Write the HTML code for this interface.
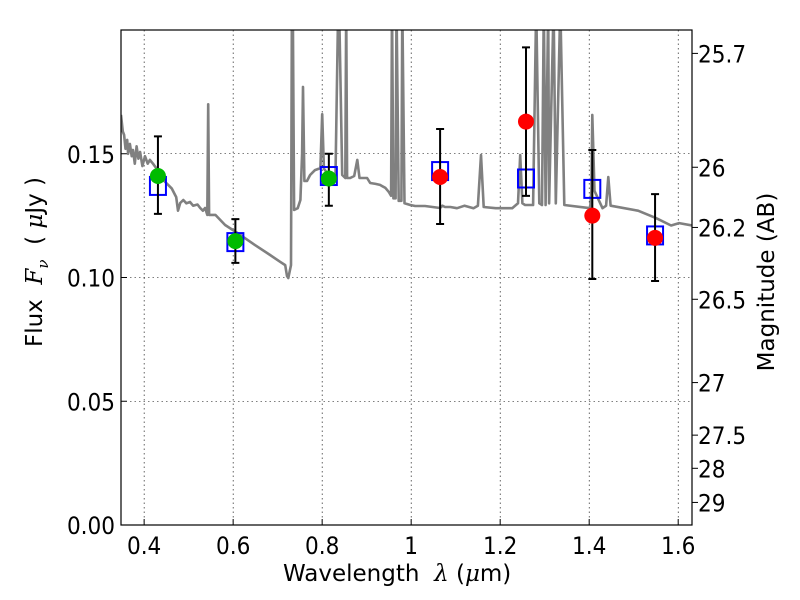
<!DOCTYPE html>
<html><head><meta charset="utf-8"><style>
html,body{margin:0;padding:0;background:#fff;}
svg{display:block;font-family:"DejaVu Sans Condensed","DejaVu Sans","Liberation Sans Narrow",sans-serif;font-stretch:condensed;}
</style></head><body>
<svg id="chart" width="800" height="600" xmlns="http://www.w3.org/2000/svg"></svg>
<script>
const specWave=[0.348,0.352,0.355,0.358,0.362,0.364,0.368,0.372,0.375,0.379,0.383,0.387,0.391,0.396,0.402,0.408,0.413,0.42,0.428,0.436,0.445,0.454,0.462,0.472,0.476,0.481,0.488,0.495,0.503,0.51,0.52,0.526,0.532,0.537,0.542,0.544,0.546,0.56,0.582,0.616,0.649,0.683,0.706,0.717,0.721,0.724,0.73,0.732,0.734,0.737,0.745,0.751,0.755,0.757,0.76,0.766,0.773,0.784,0.796,0.8,0.804,0.818,0.83,0.836,0.838,0.845,0.852,0.854,0.856,0.863,0.872,0.879,0.884,0.901,0.908,0.92,0.93,0.942,0.95,0.955,0.957,0.96,0.965,0.967,0.972,0.978,0.98,0.985,0.998,1.009,1.031,1.065,1.07,1.076,1.082,1.088,1.103,1.12,1.14,1.15,1.157,1.163,1.19,1.227,1.24,1.245,1.25,1.256,1.274,1.281,1.288,1.294,1.298,1.302,1.308,1.31,1.32,1.325,1.335,1.344,1.402,1.405,1.407,1.412,1.43,1.438,1.443,1.448,1.51,1.55,1.584,1.602,1.631];
const specFlux=[0.1657,0.159,0.1576,0.152,0.1556,0.15,0.154,0.149,0.1515,0.146,0.153,0.148,0.1507,0.145,0.149,0.146,0.1475,0.146,0.144,0.1414,0.139,0.1374,0.136,0.1325,0.127,0.1301,0.1313,0.13,0.1305,0.129,0.1295,0.1281,0.127,0.1281,0.1253,0.170,0.1253,0.1253,0.1212,0.1172,0.1131,0.1091,0.1063,0.105,0.1006,0.0998,0.105,0.21,0.21,0.1273,0.128,0.1313,0.15,0.177,0.139,0.139,0.1414,0.1434,0.1442,0.166,0.144,0.1406,0.1414,0.21,0.21,0.1414,0.1402,0.21,0.1402,0.1402,0.141,0.1475,0.1402,0.1402,0.1382,0.1378,0.1374,0.1362,0.1345,0.133,0.21,0.132,0.132,0.21,0.131,0.131,0.21,0.13,0.1293,0.1289,0.1289,0.1281,0.129,0.1285,0.1285,0.1285,0.128,0.129,0.128,0.129,0.1495,0.1285,0.128,0.128,0.13,0.1495,0.13,0.1293,0.1293,0.21,0.13,0.1293,0.21,0.1293,0.21,0.13,0.21,0.13,0.21,0.1293,0.128,0.135,0.1657,0.135,0.128,0.129,0.1406,0.129,0.127,0.124,0.121,0.122,0.121,0.117];
const obsWave=[0.431,0.605,0.815,1.065,1.258,1.407,1.548];
const obsFlux=[0.141,0.1147,0.140,0.1406,0.163,0.125,0.116];
const errHi=[0.157,0.1236,0.150,0.160,0.193,0.1515,0.1337];
const errLo=[0.1257,0.1059,0.129,0.1216,0.133,0.0994,0.0986];
const obsColor=["#00bb00","#00bb00","#00bb00","#ff0000","#ff0000","#ff0000","#ff0000"];
const modelFlux=[0.137,0.1143,0.141,0.143,0.140,0.1358,0.117];
const xTicks=[0.4,0.6,0.8,1.0,1.2,1.4,1.6];
const xTickLabels=["0.4","0.6","0.8","1","1.2","1.4","1.6"];
const yTicks=[0,0.05,0.10,0.15];
const yTickLabels=["0.00","0.05","0.10","0.15"];
const magTicks=[25.7,26,26.2,26.5,27,27.5,28,29];
const magTickLabels=["25.7","26","26.2","26.5","27","27.5","28","29"];

const L=121,R=692,T=30,B=525,X0=0.348,X1=1.631,Y0=0,Y1=0.2;
const sx=v=>L+(v-X0)/(X1-X0)*(R-L);
const sy=v=>B-(v-Y0)/(Y1-Y0)*(B-T);
const NS="http://www.w3.org/2000/svg";
const svg=document.getElementById('chart');
function mk(tag,attrs,parent){const e=document.createElementNS(NS,tag);for(const k in attrs)e.setAttribute(k,attrs[k]);(parent||svg).appendChild(e);return e;}
const defs=mk('defs',{});
const cp=mk('clipPath',{id:'clip'},defs);mk('rect',{x:L,y:T,width:R-L,height:B-T},cp);

xTicks.forEach((t,i)=>{const g=mk('line',{x1:sx(t),x2:sx(t),y1:T,y2:B,stroke:'#000','stroke-width':0.6,'stroke-dasharray':'1.5,3'});


const tk=mk('line',{x1:sx(t),x2:sx(t),y1:B,y2:B-6,stroke:'#000'});


const lb=mk('text',{x:sx(t),y:B+29,'text-anchor':'middle','font-size':24});lb.textContent=xTickLabels[i];

});
yTicks.forEach((t,i)=>{const g=mk('line',{x1:L,x2:R,y1:sy(t),y2:sy(t),stroke:'#000','stroke-width':0.6,'stroke-dasharray':'1.5,3'});


const tk=mk('line',{x1:L,x2:L+6,y1:sy(t),y2:sy(t),stroke:'#000'});


const lb=mk('text',{x:L-6,y:sy(t)+9,'text-anchor':'end','font-size':24});lb.textContent=yTickLabels[i];

});
magTicks.forEach((m,i)=>{const f=Math.pow(10,(23.9-m)/2.5);const y=sy(f);
const tk=mk('line',{x1:R,x2:R+6,y1:y,y2:y,stroke:'#000'});


const lb=mk('text',{x:R+6,y:y+9,'font-size':24});lb.textContent=magTickLabels[i];

});

const gd=mk('g',{'clip-path':'url(#clip)'});
const sp=mk('path',{d:specWave.map((w,i)=>(i?'L':'M')+sx(w).toFixed(1)+','+sy(specFlux[i]).toFixed(1)).join(''),fill:'none',stroke:'#808080','stroke-width':2.6,'stroke-linejoin':'round'},gd);


obsWave.forEach((w,i)=>{const s=mk('rect',{x:sx(w)-8,y:sy(modelFlux[i])-9,width:16,height:18,fill:'none',stroke:'#0000ff','stroke-width':2},gd);

});
obsWave.forEach((w,i)=>{const x=sx(w);
const e=mk('path',{d:`M${x},${sy(errHi[i])}V${sy(errLo[i])}M${x-4},${sy(errHi[i])}h8M${x-4},${sy(errLo[i])}h8`,stroke:'#000','stroke-width':2,fill:'none'},gd);


const c=mk('circle',{cx:x,cy:sy(obsFlux[i]),r:8,fill:obsColor[i]},gd);

});

const fr=mk('rect',{x:L,y:T,width:R-L,height:B-T,fill:'none',stroke:'#000','stroke-width':1.2});


</script>
<div style="position:absolute;left:0;top:0;width:800px;height:600px;pointer-events:none;font-family:'DejaVu Sans','Liberation Sans',sans-serif;">
<div style="position:absolute;left:283px;top:561px;font-size:23px;white-space:nowrap;">Wavelength &nbsp;<i style="font-family:'DejaVu Serif',serif">λ</i> (<i style="font-family:'DejaVu Serif',serif">μ</i>m)</div>
<div style="position:absolute;left:37px;top:262px;font-size:23px;white-space:nowrap;transform:translate(-50%,-50%) rotate(-90deg);transform-origin:center;">Flux &nbsp;<i style="font-family:'DejaVu Serif',serif">F<sub style="font-size:15px">ν</sub></i> &nbsp;( <i style="font-family:'DejaVu Serif',serif">μ</i>Jy )</div>
<div style="position:absolute;left:767px;top:282px;font-size:23px;white-space:nowrap;transform:translate(-50%,-50%) rotate(-90deg);">Magnitude (AB)</div>
</div>
</body></html>
